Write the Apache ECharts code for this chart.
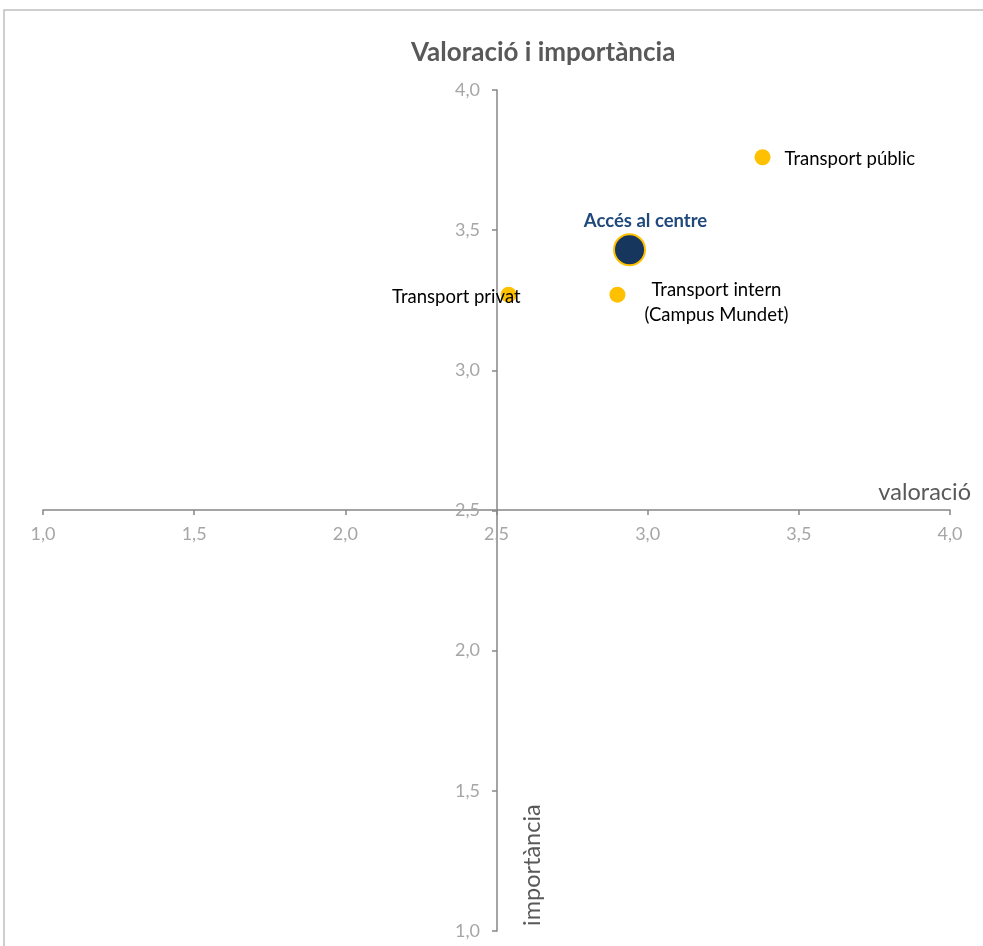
<!DOCTYPE html>
<html>
<head>
<meta charset="utf-8">
<script src="https://cdn.jsdelivr.net/npm/echarts@6/dist/echarts.min.js"></script>
<style>
    html, body { margin: 0; padding: 0; background: #fff; }
    #chart { width: 983px; height: 946px; }
</style>
</head>
<body>
<div id="chart"></div>
<script>
let names = ['Transport públic', 'Accés al centre', 'Transport privat', 'Transport intern\n(Campus Mundet)'];
let valoracio = [3.38, 2.94, 2.54, 2.90];
let importancia = [3.76, 3.43, 3.27, 3.27];
let axisTicks = [1.0, 1.5, 2.0, 2.5, 3.0, 3.5, 4.0];

let fontFamily = 'Lato, "Open Sans", sans-serif';

function fmt(v) {
    return v.toFixed(1).replace('.', ',');
}

// label placement for each point
let labelCfg = [
    {position: 'right', distance: 14, offset: [0, 2], color: '#000', fontSize: 18.5},
    {position: 'top', distance: 6, offset: [16, 3], color: '#1F497D', fontSize: 18.5, fontWeight: 'bold'},
    {position: 'left', distance: -20, offset: [0, 2], color: '#000', fontSize: 18.5},
    {position: [107, -9], align: 'center', verticalAlign: 'top', lineHeight: 25, color: '#000', fontSize: 18.5}
];

let data = names.map(function (name, i) {
    let big = i === 1;
    return {
        name: name,
        value: [valoracio[i], importancia[i]],
        symbolSize: big ? 31 : 16,
        itemStyle: big ? {color: '#17365D', borderColor: '#FFC000', borderWidth: 2, opacity: 1} : {color: '#FFC000', opacity: 1},
        label: Object.assign({show: true, formatter: '{b}', fontFamily: fontFamily}, labelCfg[i])
    };
});

let chart = echarts.init(document.getElementById('chart'));

let axisCommon = {
    type: 'value',
    min: axisTicks[0],
    max: axisTicks[axisTicks.length - 1],
    interval: 0.5,
    splitLine: {show: false},
    axisLine: {show: true, lineStyle: {color: '#868686', width: 1.5}},
    axisTick: {show: true, length: 5, lineStyle: {color: '#868686', width: 1.5}},
    axisLabel: {
        color: '#A6A6A6',
        fontSize: 18,
        fontFamily: fontFamily,
        formatter: fmt,
        showMinLabel: true,
        showMaxLabel: true
    }
};

let option = {
    backgroundColor: '#fff',
    animation: false,
    title: {
        text: 'Valoració i importància',
        left: 406,
        top: 35,
        textStyle: {color: '#595959', fontSize: 26, fontWeight: 'bold', fontFamily: fontFamily}
    },
    grid: {left: 43, right: 33, top: 90, bottom: 15},
    xAxis: Object.assign({}, axisCommon, {
        position: 'bottom',
        offset: -421,
        axisLabel: Object.assign({}, axisCommon.axisLabel, {margin: 15})
    }),
    yAxis: Object.assign({}, axisCommon, {
        position: 'left',
        offset: -454,
        axisLabel: Object.assign({}, axisCommon.axisLabel, {margin: 17})
    }),
    graphic: [
        {
            type: 'rect',
            shape: {x: 4, y: 10, width: 1200, height: 1200},
            style: {fill: 'none', stroke: '#BFBFBF', lineWidth: 1.5},
            silent: true
        },
        {
            type: 'text',
            x: 971,
            y: 492,
            style: {text: 'valoració', fill: '#595959', fontSize: 23.5, fontFamily: fontFamily,
                align: 'right', verticalAlign: 'middle'}
        },
        {
            type: 'text',
            x: 532,
            y: 926,
            rotation: Math.PI / 2,
            style: {text: 'importància', fill: '#595959', fontSize: 23.5, fontFamily: fontFamily,
                align: 'left', verticalAlign: 'middle'}
        }
    ],
    series: [
        {
            type: 'scatter',
            data: data
        }
    ]
};

chart.setOption(option);
</script>
</body>
</html>
